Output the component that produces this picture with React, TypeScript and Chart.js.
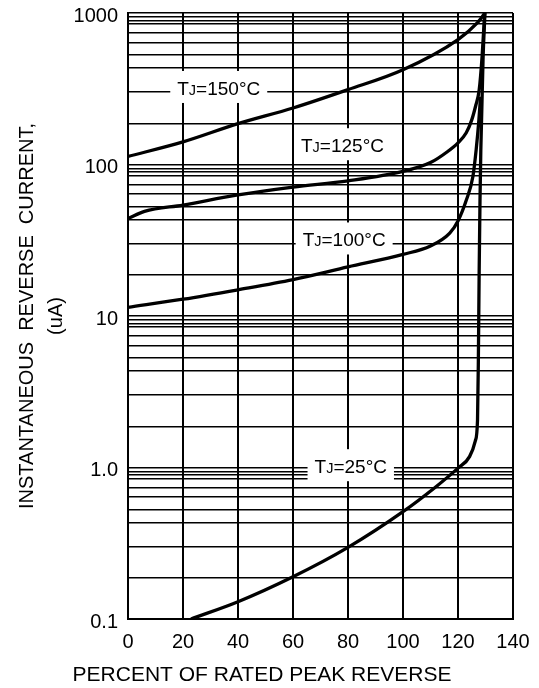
import React, { useEffect, useRef } from "react";
import { Chart, registerables } from "chart.js";

Chart.register(...registerables);

const FONT = "'Liberation Sans', Arial, Helvetica, sans-serif";

// Axis ticks
const xTicks = [0, 20, 40, 60, 80, 100, 120, 140];
const yDecades = [0.1, 1, 10, 100, 1000];
const yTickLabels = ["0.1", "1.0", "10", "100", "1000"];
// minor grid lines (fraction of each decade line) as drawn on the original paper
const yMinorFactors = [0.94, 0.89, 0.845, 0.74, 0.64, 0.53, 0.435, 0.3, 0.187];

// Curves: percent of rated peak reverse voltage vs reverse current (uA)
const seriesNames = ["TJ=150°C", "TJ=125°C", "TJ=100°C", "TJ=25°C"];

const tj150X = [0, 20, 40, 60, 80, 100, 120, 127, 129.8];
const tj150Y = [113, 141, 186, 236, 312, 422, 668, 860, 1000];

const tj125X = [0, 6, 20, 40, 60, 80, 100, 110, 116, 120, 123, 125, 126.5, 127.7, 128.8, 129.7];
const tj125Y = [44, 49, 54, 63, 71, 78, 90, 103, 121, 139, 162, 197, 247, 310, 530, 1000];

const tj100X = [0, 20, 40, 60, 80, 100, 110, 117, 120, 123, 125.4, 126.6, 127.6, 128.2];
const tj100Y = [11.4, 12.9, 14.9, 17.4, 21.1, 25.5, 29, 35.3, 42.4, 58, 83, 125, 197, 280];

const tj25X = [22.9, 40, 60, 80, 100, 112, 120, 124.2, 126.3, 127.1, 127.4, 127.7, 128.0, 128.3, 129.1, 129.8];
const tj25Y = [0.1, 0.13, 0.19, 0.297, 0.511, 0.747, 0.99, 1.18, 1.5, 2.06, 5, 20, 58, 125, 490, 1000];

// Curve label anchor (data coordinates)
const labelX = [33, 78, 78.6, 81];
const labelY = [320, 134, 32, 1.02];

const seriesX = [tj150X, tj125X, tj100X, tj25X];
const seriesY = [tj150Y, tj125Y, tj100Y, tj25Y];

const yGridValues: number[] = [];
yDecades.forEach((d) => {
  yGridValues.push(d);
  if (d > 0.1) yMinorFactors.forEach((f) => yGridValues.push(d * f));
});

const labelPlugin = {
  id: "curveLabels",
  beforeDatasetsDraw(chart: any) {
    const { ctx, scales } = chart;
    const x = scales.x;
    const y = scales.y;
    ctx.save();
    seriesNames.forEach((name, i) => {
      const cx = x.getPixelForValue(labelX[i]);
      const cy = y.getPixelForValue(labelY[i]);
      const parts = [
        { t: "T", s: 19 },
        { t: "J", s: 14.5 },
        { t: name.slice(2), s: 19 },
      ];
      let w = 0;
      parts.forEach((p) => {
        ctx.font = `${p.s}px ${FONT}`;
        w += ctx.measureText(p.t).width;
      });
      ctx.fillStyle = "#ffffff";
      ctx.fillRect(cx - w / 2 - 7, cy - 17, w + 14, 32);
      ctx.fillStyle = "#000000";
      ctx.textBaseline = "alphabetic";
      ctx.textAlign = "left";
      let px = cx - w / 2;
      const base = cy + 6.8;
      parts.forEach((p) => {
        ctx.font = `${p.s}px ${FONT}`;
        ctx.fillText(p.t, px, base);
        px += ctx.measureText(p.t).width;
      });
    });
    ctx.restore();
  },
};

export default function App() {
  const ref = useRef<HTMLCanvasElement | null>(null);

  useEffect(() => {
    if (!ref.current) return;
    Chart.defaults.font.family = FONT;
    const chart = new Chart(ref.current, {
      type: "line",
      data: {
        datasets: seriesNames.map((name, i) => ({
          label: name,
          data: seriesX[i].map((xv, j) => ({ x: xv, y: seriesY[i][j] })),
          borderColor: "#000000",
          borderWidth: 3.3,
          pointRadius: 0,
          fill: false,
          cubicInterpolationMode: "monotone" as const,
        })),
      },
      options: {
        animation: false,
        responsive: true,
        maintainAspectRatio: false,
        layout: { padding: { top: 13, right: 15, left: 0, bottom: 0 } },
        plugins: {
          legend: { display: false },
          tooltip: { enabled: false },
          title: {
            display: true,
            text: "PERCENT OF RATED PEAK REVERSE",
            position: "bottom",
            color: "#000000",
            font: { size: 21, family: FONT, weight: "normal", lineHeight: 1.2 },
            padding: { top: 4, bottom: 0 },
          },
        },
        scales: {
          x: {
            type: "linear",
            min: 0,
            max: 140,
            afterBuildTicks: (s: any) => {
              s.ticks = xTicks.map((v) => ({ value: v }));
            },
            afterFit: (s: any) => {
              s.height = 39.8;
              s.paddingRight = 26;
            },
            ticks: {
              autoSkip: false,
              maxRotation: 0,
              color: "#000000",
              padding: 11,
              font: { size: 20, family: FONT },
            },
            grid: { color: "#000000", lineWidth: 2, drawTicks: false },
            border: { color: "#000000", width: 2 },
          },
          y: {
            type: "logarithmic",
            min: 0.1,
            max: 1000,
            afterBuildTicks: (s: any) => {
              s.ticks = yGridValues.map((v) => ({ value: v }));
            },
            afterFit: (s: any) => {
              s.width = 128;
              s.paddingTop = 0;
              s.paddingBottom = 0;
            },
            ticks: {
              autoSkip: false,
              color: "#000000",
              padding: 10,
              labelOffset: 3,
              font: { size: 20, family: FONT },
              callback: (v: any) => {
                const k = yDecades.indexOf(Number(v));
                return k >= 0 ? yTickLabels[k] : "";
              },
            },
            grid: { color: "#000000", lineWidth: 1.5, drawTicks: false },
            border: { color: "#000000", width: 2 },
            title: {
              display: true,
              text: ["INSTANTANEOUS  REVERSE  CURRENT,", "(uA)"],
              color: "#000000",
              font: { size: 20, family: FONT, lineHeight: 1.45 },
              padding: { top: 12.5, bottom: 0 },
            },
          },
        },
      },
      plugins: [labelPlugin],
    } as any);
    return () => chart.destroy();
  }, []);

  return (
    <div style={{ position: "absolute", left: 0, top: 0, width: 539, height: 688 }}>
      <canvas ref={ref} />
    </div>
  );
}
